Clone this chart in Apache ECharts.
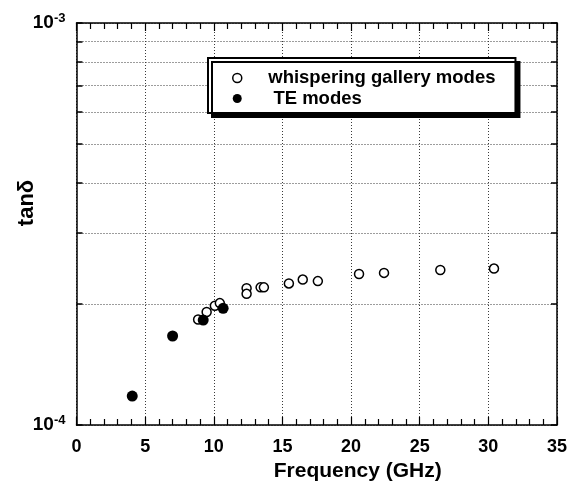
<!DOCTYPE html>
<html>
<head>
<meta charset="utf-8">
<script src="https://cdn.jsdelivr.net/npm/echarts@6/dist/echarts.min.js"></script>
<style>
  html, body { margin: 0; padding: 0; background: #fff; }
  #chart { width: 575px; height: 485px; }
</style>
</head>
<body>
<div id="chart"></div>
<script>
// Whispering gallery modes: frequency (GHz) and loss tangent
const freqWGM = [8.86, 9.48, 10.08, 10.44, 12.39, 12.39, 13.41, 13.65, 15.47, 16.48, 17.58, 20.58, 22.4, 26.5, 30.41];
const tanWGM  = [1.83e-4, 1.91e-4, 1.98e-4, 2.01e-4, 2.19e-4, 2.12e-4, 2.2e-4, 2.2e-4, 2.25e-4, 2.3e-4, 2.28e-4, 2.375e-4, 2.39e-4, 2.43e-4, 2.45e-4];

// TE modes
const freqTE = [4.06, 7.0, 9.23, 10.68];
const tanTE  = [1.18e-4, 1.665e-4, 1.824e-4, 1.951e-4];

// Axis ticks
const xTicks = [0, 5, 10, 15, 20, 25, 30, 35];
const yDecades = [1e-4, 1e-3];
const yGridValues = [1e-4, 2e-4, 3e-4, 4e-4, 5e-4, 6e-4, 7e-4, 8e-4, 9e-4, 1e-3];

const FONT = '"Liberation Sans", Arial, sans-serif';
const lg = v => Math.log10(v);

const chart = echarts.init(document.getElementById('chart'), null, { renderer: 'canvas' });

const gridLine = { show: true, lineStyle: { color: '#3a3a3a', width: 1, type: [1, 2] } };

const option = {
  backgroundColor: '#fff',
  animation: false,
  grid: { left: 76.5, right: 18, top: 23, bottom: 60, outerBoundsMode: 'none', containLabel: false },
  legend: {
    left: 208, top: 58,
    orient: 'vertical',
    padding: [10.5, 20, 5, 24],
    itemWidth: 52, itemHeight: 9, itemGap: 1.5,
    backgroundColor: '#fff',
    borderColor: '#000', borderWidth: 2, borderRadius: 0,
    shadowColor: '#000', shadowBlur: 0, shadowOffsetX: 4, shadowOffsetY: 4,
    selectedMode: false,
    formatter: n => (n === 'TE modes' ? ' ' + n : n),
    textStyle: { fontFamily: FONT, fontWeight: 'bold', fontSize: 18.5, color: '#000', lineHeight: 19, width: 227, overflow: 'none', padding: 0 },
    data: [
      { name: 'whispering gallery modes', itemStyle: { borderWidth: 1.5 } },
      { name: 'TE modes' }
    ]
  },
  xAxis: [
    {
      type: 'value', position: 'bottom', min: xTicks[0], max: xTicks[xTicks.length - 1], interval: 5,
      axisLine: { show: true, onZero: false, lineStyle: { color: '#000', width: 1.5 } },
      axisTick: { show: true, inside: true, length: 8, lineStyle: { color: '#000', width: 1.2 } },
      minorTick: { show: true, splitNumber: 5, length: 6, lineStyle: { color: '#000', width: 1.2 } },
      axisLabel: { margin: 13, fontFamily: FONT, fontWeight: 'bold', fontSize: 18, color: '#000' },
      splitLine: gridLine,
      name: 'Frequency (GHz)', nameLocation: 'middle', nameGap: 33,
      nameTextStyle: { fontFamily: FONT, fontWeight: 'bold', fontSize: 21, color: '#000', padding: [0, 0, 0, 82] }
    },
    {
      type: 'value', position: 'top', min: xTicks[0], max: xTicks[xTicks.length - 1], interval: 5,
      axisLine: { show: true, onZero: false, lineStyle: { color: '#000', width: 1.5 } },
      axisTick: { show: true, inside: true, length: 8, lineStyle: { color: '#000', width: 1.2 } },
      minorTick: { show: true, splitNumber: 5, length: 6, lineStyle: { color: '#000', width: 1.2 } },
      axisLabel: { show: false },
      splitLine: { show: false }
    }
  ],
  yAxis: [
    {
      // logarithmic scale carrying the data
      type: 'log', logBase: 10, min: yDecades[0], max: yDecades[1], position: 'left',
      axisLine: { show: false }, axisTick: { show: false }, axisLabel: { show: false },
      splitLine: { show: false }, minorTick: { show: false }, minorSplitLine: { show: false }
    },
    {
      // decade labels, ticks and grid in log10 units
      type: 'value', min: lg(yDecades[0]), max: lg(yDecades[1]), position: 'left',
      axisLine: { show: true, onZero: false, lineStyle: { color: '#000', width: 1.5 } },
      axisTick: { show: true, inside: true, length: 6, lineStyle: { color: '#000', width: 1.5 },
        customValues: yGridValues.map(lg) },
      axisLabel: {
        margin: 11,
        customValues: yDecades.map(lg),
        formatter: v => '{b|10}{s|' + Math.round(v) + '}',
        rich: {
          b: { fontFamily: FONT, fontWeight: 'bold', fontSize: 19, color: '#000', lineHeight: 22 },
          s: { fontFamily: FONT, fontWeight: 'bold', fontSize: 13, color: '#000', lineHeight: 13, verticalAlign: 'top' }
        }
      },
      splitLine: gridLine,
      name: 'tanδ', nameLocation: 'middle', nameGap: 39, nameRotate: 90, nameMoveOverlap: false,
      nameTextStyle: { fontFamily: FONT, fontWeight: 'bold', fontSize: 22, color: '#000', padding: [0, 0, 0, 42] }
    },
    {
      type: 'value', min: lg(yDecades[0]), max: lg(yDecades[1]), position: 'right',
      axisLine: { show: true, onZero: false, lineStyle: { color: '#000', width: 1.5 } },
      axisTick: { show: true, inside: true, length: 6, lineStyle: { color: '#000', width: 1.5 },
        customValues: yGridValues.map(lg) },
      axisLabel: { show: false },
      splitLine: { show: false }
    }
  ],
  series: [
    {
      name: 'whispering gallery modes', type: 'scatter', xAxisIndex: 0, yAxisIndex: 0,
      symbol: 'circle', symbolSize: 9,
      itemStyle: { color: '#fff', borderColor: '#000', borderWidth: 1.5, opacity: 1 },
      data: freqWGM.map((f, i) => [f, tanWGM[i]]),
      z: 3
    },
    {
      name: 'TE modes', type: 'scatter', xAxisIndex: 0, yAxisIndex: 0,
      symbol: 'circle', symbolSize: 11,
      itemStyle: { color: '#000', borderColor: '#000', borderWidth: 0, opacity: 1 },
      data: freqTE.map((f, i) => [f, tanTE[i]]),
      z: 4
    }
  ]
};

chart.setOption(option);
</script>
</body>
</html>
